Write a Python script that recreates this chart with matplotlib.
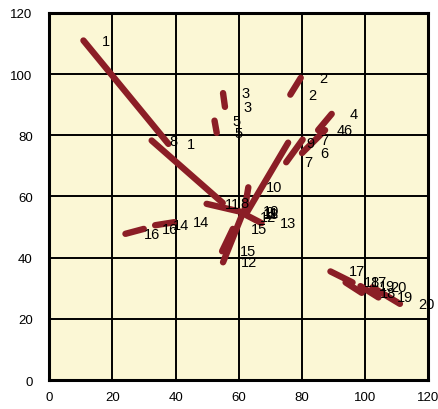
import matplotlib
matplotlib.use("Agg")
import matplotlib.pyplot as plt

# item number, first point, second point
LABELS = [str(i) for i in range(1, 21)]
X1 = [10.8, 79.6, 55.0, 89.4, 52.3, 87.3, 80.2, 32.4, 75.6, 63.0,
      49.8, 55.0, 61.8, 33.5, 54.7, 24.1, 89.0, 93.8, 98.5, 102.3]
Y1 = [111.0, 98.8, 93.8, 87.0, 84.8, 81.7, 78.6, 78.3, 77.6, 63.0,
      57.6, 38.5, 54.2, 50.6, 42.1, 47.8, 35.5, 31.9, 30.7, 30.3]
X2 = [37.7, 76.3, 55.6, 85.1, 53.0, 80.0, 75.0, 54.9, 62.6, 61.8,
      62.3, 60.8, 67.2, 39.6, 58.1, 29.9, 96.0, 98.9, 104.2, 111.0]
Y2 = [77.2, 93.3, 89.3, 81.7, 80.8, 74.2, 71.2, 57.9, 54.9, 55.4,
      54.6, 53.4, 51.3, 51.6, 49.4, 49.4, 31.9, 28.5, 27.0, 24.9]

TICKS = [0, 20, 40, 60, 80, 100, 120]

plt.rcParams["font.family"] = ["Liberation Sans", "DejaVu Sans"]

fig = plt.figure(figsize=(4.38, 4.10), dpi=100)
ax = fig.add_axes([0.1126, 0.0707, 0.8654, 0.8952])
ax.set_facecolor("#FBF7D5")

for lab, xa, ya, xb, yb in zip(LABELS, X1, Y1, X2, Y2):
    ax.plot([xa, xb], [ya, yb], color="#8B1E26", linewidth=4.6,
            solid_capstyle="round", zorder=3)
    for x, y in ((xa, ya), (xb, yb)):
        ax.annotate(lab, (x, y), xytext=(13, 0), textcoords="offset points",
                    ha="left", va="center", fontsize=10.5, color="black",
                    zorder=5, annotation_clip=False)

ax.set_xlim(0, 120)
ax.set_ylim(0, 120)
ax.set_xticks(TICKS)
ax.set_yticks(TICKS)
ax.set_xticklabels([str(t) for t in TICKS], fontsize=9.5)
ax.set_yticklabels([str(t) for t in TICKS], fontsize=9.5)
ax.tick_params(axis="x", length=0, pad=8)
ax.tick_params(axis="y", length=0, pad=12)
ax.grid(True, color="black", linewidth=1.4, zorder=1)
ax.set_axisbelow(True)
for s in ax.spines.values():
    s.set_linewidth(2.2)
    s.set_color("black")

plt.savefig("out.png", dpi=100, facecolor="white")
